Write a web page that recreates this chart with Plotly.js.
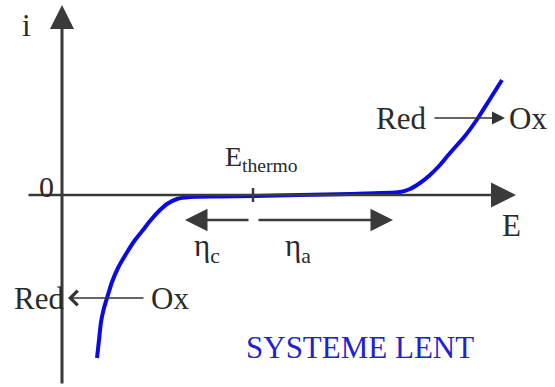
<!DOCTYPE html>
<html>
<head>
<meta charset="utf-8">
<script src="https://cdn.plot.ly/plotly-3.0.1.min.js"></script>
<style>html,body{margin:0;padding:0;background:#fff;}#chart{width:555px;height:387px;}</style>
</head>
<body>
<div id="chart"></div>
<script>
// Current–potential curve of a slow system (E relative to the axis origin, i in arbitrary units)
const E_values = [35, 37, 39, 42, 45, 50, 56, 64, 73, 81, 88, 96, 105, 115, 128, 158, 191, 238, 288, 338, 348, 358, 368, 378, 388, 403, 416, 428, 440];
const i_values = [-163, -145, -127, -113, -103, -87, -73, -59, -45, -35, -26, -17, -9, -4, -2, -1.5, -1, 0, 1, 3, 6, 12, 20, 30, 42, 59, 77, 96, 115];

// Text labels
const labelI = "i";
const labelZero = "0";
const labelE = "E";
const labelEthermo = "E<sub>thermo</sub>";
const labelEtaC = "η<sub>c</sub>";
const labelEtaA = "η<sub>a</sub>";
const labelRed = "Red";
const labelOx = "Ox";
const labelTitle = "SYSTEME LENT";

const E_thermo = 191;

const serif = "Liberation Serif, Times New Roman, serif";
const txt = "#2a2a2a";
const axisCol = "#3a3a3a";

const trace = {
  x: E_values, y: i_values, type: "scatter", mode: "lines",
  line: {color: "#0a0ae6", width: 4, shape: "spline", smoothing: 0.6},
  hoverinfo: "skip"
};

function arrow(xh, yh, xt, yt, w, size, head, col) {
  return {x: xh, y: yh, ax: xt, ay: yt, xref: "x", yref: "y", axref: "x", ayref: "y",
          text: "", showarrow: true, arrowhead: head, arrowsize: size, arrowwidth: w,
          arrowcolor: col, standoff: 0, startstandoff: 0};
}
function label(t, x, y, xa, ya, size, col) {
  return {x: x, y: y, xref: "x", yref: "y", text: t, showarrow: false,
          xanchor: xa, yanchor: ya, font: {family: serif, size: size, color: col || txt}};
}

const annotations = [
  arrow(0, 190, 0, -190, 3, 1.6, 2, axisCol),         // i axis
  arrow(454, 0, -35, 0, 2.5, 2, 2, axisCol),          // E axis
  arrow(123, -25, 188, -25, 2.5, 1.8, 2, axisCol),    // eta_c
  arrow(331, -25, 195, -25, 2.5, 1.8, 2, axisCol),    // eta_a
  arrow(443, 77, 371, 77, 1.3, 2, 2, "#333"),          // Red -> Ox
  arrow(6, -103, 83, -103, 1.3, 2.2, 4, "#333"),       // Red <- Ox
  label(labelI, -36, 170, "center", "middle", 31),
  label(labelZero, -16, 9, "center", "middle", 30, "#3a1f1f"),
  label(labelE, 449, -30, "center", "middle", 31),
  label(labelEthermo, E_thermo + 8, 37, "center", "middle", 28),
  label(labelEtaC, 145, -53, "center", "middle", 31),
  label(labelEtaA, 236, -53, "center", "middle", 31),
  label(labelRed, 366, 77, "right", "middle", 31),
  label(labelOx, 445, 77, "left", "middle", 31),
  label(labelRed, 4, -103, "right", "middle", 31),
  label(labelOx, 87, -103, "left", "middle", 31),
  label(labelTitle, 298, -152, "center", "middle", 31, "#2222cc")
];

const shapes = [
  {type: "line", xref: "x", yref: "y", x0: E_thermo, x1: E_thermo, y0: -7, y1: 7,
   line: {color: axisCol, width: 2.5}}
];

const layout = {
  width: 555, height: 387,
  margin: {l: 0, r: 0, t: 0, b: 0},
  paper_bgcolor: "#fff", plot_bgcolor: "#fff",
  showlegend: false,
  xaxis: {range: [-62, 493], visible: false, fixedrange: true},
  yaxis: {range: [-192, 195], visible: false, fixedrange: true},
  annotations: annotations,
  shapes: shapes
};

Plotly.newPlot("chart", [trace], layout, {staticPlot: true, displayModeBar: false});
</script>
</body>
</html>
